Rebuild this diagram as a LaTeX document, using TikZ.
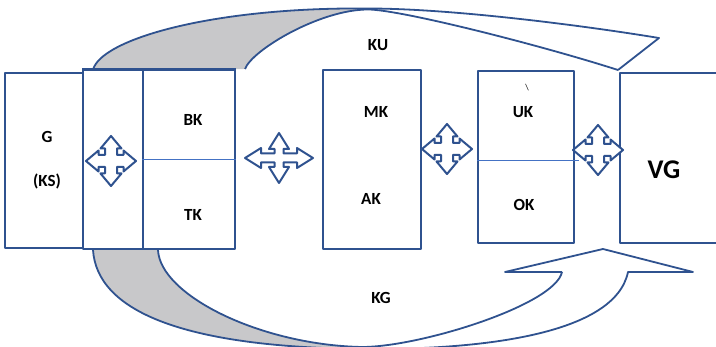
\documentclass[tikz,border=0pt]{standalone}
\usepackage{fontspec}
\setmainfont{Carlito}
\definecolor{lineblue}{RGB}{47,82,143}
\definecolor{divblue}{RGB}{68,114,196}
\definecolor{bandgray}{RGB}{200,200,202}
\newcommand{\quadarrowshape}[7]{%
\begin{scope}[shift={(#1,#2)}]
\draw[quad] (#3,0) -- ({#3-#6},{-#5}) -- ({#3-#6},{-#7}) -- (#7,-#7) -- (#7,{-(#4-#6)}) -- (#5,{-(#4-#6)}) -- (0,-#4)
 -- (-#5,{-(#4-#6)}) -- (-#7,{-(#4-#6)}) -- (-#7,-#7) -- ({-(#3-#6)},-#7) -- ({-(#3-#6)},-#5) -- (-#3,0)
 -- ({-(#3-#6)},#5) -- ({-(#3-#6)},#7) -- (-#7,#7) -- (-#7,{#4-#6}) -- (-#5,{#4-#6}) -- (0,#4)
 -- (#5,{#4-#6}) -- (#7,{#4-#6}) -- (#7,#7) -- ({#3-#6},#7) -- ({#3-#6},#5) -- cycle;
\end{scope}}
\begin{document}
\begin{tikzpicture}[x=1pt,y=-1pt,line join=round,
  box/.style={draw=lineblue,line width=1.8pt,fill=white,inner sep=0pt},
  band/.style={draw=lineblue,line width=1.8pt},
  quad/.style={draw=lineblue,line width=2pt,fill=white},
  divider/.style={draw=divblue,line width=0.8pt},
  lbl/.style={font=\bfseries\fontsize{17}{20}\selectfont,text=black,inner sep=0pt}]
\useasboundingbox (0,0) rectangle (716,347);
\clip (0,0) rectangle (716,347);

% top curved arrow
\coordinate (ta) at (93,70);
\coordinate (tb) at (245,69);
\coordinate (tpk) at (368,8.5);
\coordinate (tpi) at (368,9.5);
\coordinate (thd) at (659,38);
\coordinate (ttip) at (618,70);
\fill[bandgray] (ta) .. controls (100,40) and (210,7) .. (tpk) -- (tpi)
  .. controls (320,9.5) and (252,50) .. (tb) -- cycle;
\draw[band] (ta) .. controls (100,40) and (210,7) .. (tpk)
  .. controls (450,8.5) and (580,25) .. (thd) -- (ttip);
\draw[band] (tb) .. controls (252,50) and (320,9.5) .. (tpi)
  .. controls (400,9.5) and (540,45) .. (ttip);

% bottom curved arrow
\coordinate (ba) at (93,250);
\coordinate (bb) at (158,250);
\coordinate (bko) at (362,349);
\coordinate (bki) at (362,347);
\coordinate (bno) at (628,272);
\coordinate (bni) at (562,272);
\coordinate (bhr) at (693,272);
\coordinate (bhl) at (505,272);
\coordinate (btip) at (603,249);
\fill[bandgray] (ba) .. controls (97,310) and (180,347) .. (bko) -- (bki)
  .. controls (260,345) and (160,295) .. (bb) -- cycle;
\draw[band] (ba) .. controls (97,310) and (180,347) .. (bko)
  .. controls (480,350) and (615,335) .. (bno) -- (bhr) -- (btip) -- (bhl) -- (bni);
\draw[band] (bb) .. controls (160,295) and (260,345) .. (bki)
  .. controls (420,347) and (555,305) .. (bni);

% boxes
\node[box,minimum width=78pt,minimum height=175pt] (gbox) at (44,160.5) {};
\node[box,minimum width=60pt,minimum height=179pt] (cbox) at (113,159.5) {};
\node[box,minimum width=92pt,minimum height=179pt] (bkbox) at (189,159.5) {};
\node[box,minimum width=98pt,minimum height=179pt] (mkbox) at (372,159.5) {};
\node[box,minimum width=96pt,minimum height=172pt] (ukbox) at (526,157) {};
\node[box,minimum width=100pt,minimum height=170pt] (vgbox) at (670,158) {};
\draw[band,line width=3pt] (cbox.north west) -- (bkbox.north east);
\draw[divider] (bkbox.west) -- (bkbox.east);
\draw[divider] ([yshift=-3pt]ukbox.west) -- ([yshift=-3pt,xshift=4pt]ukbox.east);

% four-way arrows
\quadarrowshape{111}{161}{25}{25}{10.5}{12.5}{6}
\quadarrowshape{279}{158}{34}{25}{10}{16}{4.5}
\quadarrowshape{447}{149}{25}{25}{10.5}{12.5}{6}
\quadarrowshape{598}{150}{25}{25}{10.5}{12.5}{6}

% labels
\node[lbl] (g) at (47,137) {G};
\node[lbl] (ks) at (47,181) {(KS)};
\node[lbl] (bk) at (193,120) {BK};
\node[lbl] (tk) at (193,215) {TK};
\node[lbl] (ku) at (378,45) {KU};
\node[lbl] (mk) at (376,112) {MK};
\node[lbl] (ak) at (371,199) {AK};
\node[lbl] (uk) at (523,112) {UK};
\node[lbl] (ok) at (524,205) {OK};
\node[lbl,font=\bfseries\fontsize{27}{30}\selectfont] (vg) at (664,170) {VG};
\node[lbl] (kg) at (381,298) {KG};
\node[font=\fontsize{9}{10}\selectfont,inner sep=0pt] (tick) at (527,88) {\textbackslash};
\end{tikzpicture}
\end{document}
